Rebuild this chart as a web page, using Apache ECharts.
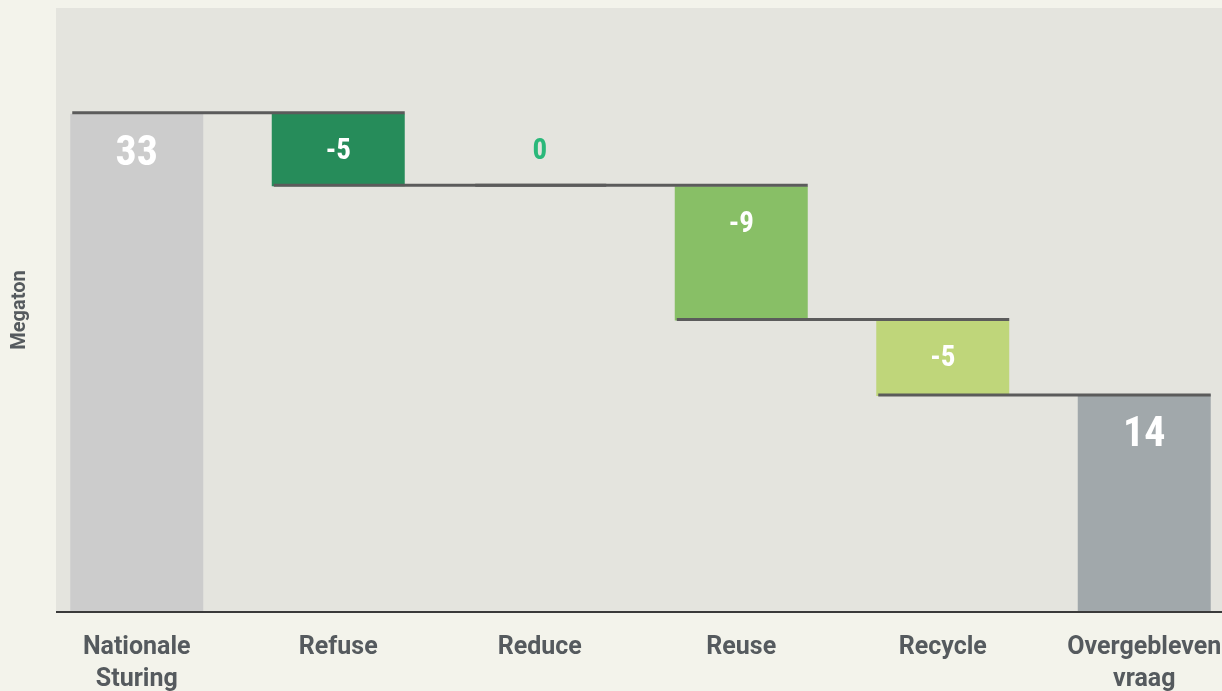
<!DOCTYPE html>
<html>
<head>
<meta charset="utf-8">
<script src="https://cdn.jsdelivr.net/npm/echarts@6/dist/echarts.min.js"></script>
<style>
  html, body { margin: 0; padding: 0; background: #f3f3eb; }
  #chart { width: 1222px; height: 691px; }
</style>
</head>
<body>
<div id="chart"></div>
<script>
// categorieën en waarden (Megaton)
var categories = ['Nationale\nSturing', 'Refuse', 'Reduce', 'Reuse', 'Recycle', 'Overgebleven\nvraag'];
var changes = [33, -4.8, 0, -8.9, -5, 14.4];
var isTotal = [true, false, false, false, false, true];
var barColors = ['#cccccc', '#268c5a', '#2ab87a', '#88bf66', '#bfd67a', '#a1a8ab'];

// onzichtbare basis + zichtbare hoogte uitrekenen
var baseData = [];
var valueData = [];
var levels = []; // niveau na elke stap, voor de verbindingslijnen
var running = 0;
for (var i = 0; i < changes.length; i++) {
  var v = changes[i];
  if (isTotal[i]) {
    baseData.push(0);
    running = v;
    valueData.push({
      value: v,
      itemStyle: { color: barColors[i] },
      label: { fontSize: 42, distance: 20 }
    });
  } else {
    var next = running + v;
    baseData.push(Math.min(running, next));
    var item = { value: Math.abs(v), itemStyle: { color: barColors[i] } };
    if (v === 0) {
      // nul: label boven de lijn, in groen
      item.label = { position: 'top', distance: 20, color: barColors[i] };
    }
    valueData.push(item);
    running = next;
  }
  levels.push(running);
}
var connectorData = [];
for (var j = 0; j < levels.length - 1; j++) {
  connectorData.push([j, levels[j]]);
}

var chart = echarts.init(document.getElementById('chart'));
var option = {
  backgroundColor: '#f3f3eb',
  animation: false,
  textStyle: { fontFamily: 'Roboto' },
  grid: { left: 36, top: 8, width: 1209, bottom: 79, outerBoundsMode: 'none', containLabel: false },
  // plotvlak en x-as lijn
  graphic: [
    { type: 'rect', z: -10, shape: { x: 56, y: 8, width: 1166, height: 604 }, style: { fill: '#e4e4de' } },
    { type: 'line', z: 10, shape: { x1: 56, y1: 612, x2: 1222, y2: 612 }, style: { stroke: '#3a3a3a', lineWidth: 2 } }
  ],
  xAxis: {
    type: 'category',
    data: categories,
    axisLine: { show: false },
    axisTick: { show: false },
    axisLabel: {
      interval: 0,
      hideOverlap: false,
      margin: 20,
      fontSize: 25,
      fontWeight: 'bold',
      color: '#555a5e',
      lineHeight: 32
    }
  },
  yAxis: {
    type: 'value',
    min: 0,
    max: 40,
    name: 'Megaton',
    nameLocation: 'middle',
    nameGap: 6,
    nameMoveOverlap: false,
    nameTextStyle: { fontSize: 20, fontWeight: 'bold', color: '#555a5e' },
    axisLine: { show: false },
    axisTick: { show: false },
    axisLabel: { show: false },
    splitLine: { show: false }
  },
  series: [
    {
      type: 'bar',
      stack: 'wf',
      barWidth: '66%',
      itemStyle: { color: 'transparent' },
      data: baseData,
      silent: true
    },
    {
      type: 'bar',
      stack: 'wf',
      barWidth: '66%',
      label: {
        show: true,
        position: 'insideTop',
        distance: 24,
        color: '#ffffff',
        fontSize: 29,
        fontWeight: 'bold',
        fontFamily: 'Roboto Condensed, Roboto',
        formatter: function (p) { return Math.round(changes[p.dataIndex]); }
      },
      data: valueData
    },
    {
      // verbindingslijnen tussen de staven
      type: 'custom',
      z: 5,
      data: connectorData,
      renderItem: function (params, api) {
        var idx = api.value(0);
        var lvl = api.value(1);
        var half = api.size([1, 0])[0] * 0.33;
        var p1 = api.coord([idx, lvl]);
        var p2 = api.coord([idx + 1, lvl]);
        return {
          type: 'line',
          shape: { x1: p1[0] - half + 2, y1: p1[1] - 1, x2: p2[0] + half, y2: p2[1] - 1 },
          style: { stroke: '#5b5b5b', lineWidth: 3 }
        };
      }
    }
  ]
};
chart.setOption(option);
</script>
</body>
</html>
